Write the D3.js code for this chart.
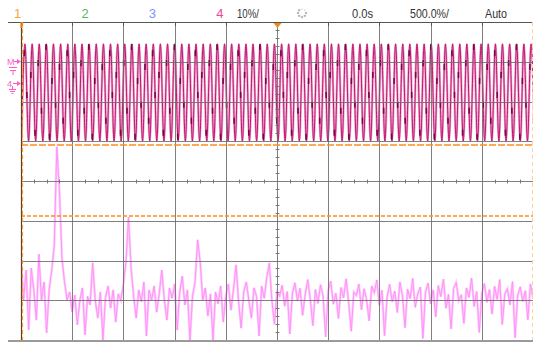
<!DOCTYPE html>
<html>
<head>
<meta charset="utf-8">
<script src="https://cdn.jsdelivr.net/npm/d3@7"></script>
<style>
  body { margin: 0; background: #fff; }
  svg { display: block; font-family: "Liberation Sans", Arial, sans-serif; }
</style>
</head>
<body>
<svg id="scope"></svg>
<script>
// ---- data ----
const channelLabels = ['1', '2', '3', '4'];
const headerFields = ['10%/', '0.0s', '500.0%/', 'Auto'];

// channel 4 time trace: crest times (µs) and crest / trough levels (V)
const ch4CrestTimes = [
  -2461, -2391, -2322, -2252, -2183, -2113, -2043, -1974, -1904, -1835,
  -1765, -1695, -1626, -1556, -1487, -1417, -1347, -1278, -1208, -1139,
  -1069, -999, -930, -860, -791, -721, -651, -582, -512, -443,
  -373, -303, -234, -164, -95, -25, 45, 114, 184, 253,
  323, 393, 462, 532, 601, 671, 741, 810, 880, 949,
  1019, 1089, 1158, 1228, 1297, 1367, 1437, 1506, 1576, 1645,
  1715, 1785, 1854, 1924, 1993, 2063, 2133, 2202, 2272, 2341,
  2411, 2481
];
const ch4High = 9.8;
const ch4Low = -14.6;
// darker persistence marks seen on the strokes (V)
const ch4DarkLevels = [7.5, -3.0, 2.0, -12.5, 5.0, -7.0, 9.0, -13.5, 0.5, -5.5, 4.0, -9.5];

// FFT magnitude (dB), one value per kHz from 0 to 200 kHz
const fftDb = [
  -20.4, -30.0, -22.4, -37.5, -21.9, -27.4, -35.0, -18.4, -30.0, -25.4,
  -38.2, -27.4, -22.4, -16.1, 8.6, -2.3, -19.4, -25.4, -30.0, -27.9,
  -33.0, -28.7, -36.2, -30.0, -26.9, -38.7, -29.0, -31.2, -20.6, -30.0,
  -34.5, -27.9, -40.0, -29.3, -26.4, -32.0, -27.4, -35.5, -28.4, -30.0,
  -25.9, -20.4, -9.1, -21.9, -29.0, -34.5, -27.4, -30.4, -25.4, -39.0,
  -27.4, -30.0, -26.4, -33.0, -28.4, -22.4, -30.0, -35.0, -26.9, -29.5,
  -25.9, -37.5, -27.9, -23.9, -31.2, -27.4, -40.0, -29.0, -25.4, -14.8,
  -20.4, -30.0, -26.9, -34.0, -28.4, -40.0, -27.9, -30.9, -26.4, -35.5,
  -29.0, -25.9, -32.5, -27.4, -21.1, -30.4, -37.0, -27.9, -25.4, -30.0,
  -34.5, -26.9, -29.0, -39.0, -26.4, -29.5, -24.4, -20.6, -30.0, -36.0,
  -27.9, -29.0, -26.2, -31.5, -27.8, -38.5, -28.4, -25.6, -30.2, -27.0,
  -33.8, -28.6, -24.8, -29.7, -36.4, -27.3, -30.8, -26.1, -28.9, -39.2,
  -27.6, -25.2, -31.0, -28.2, -34.6, -26.8, -29.4, -24.6, -30.6, -37.8,
  -27.9, -28.8, -25.9, -32.4, -27.1, -29.9, -35.2, -26.4, -28.1, -24.9,
  -31.3, -27.5, -38.9, -29.2, -26.0, -30.4, -27.7, -33.1, -25.4, -28.7,
  -36.9, -27.2, -29.6, -24.5, -31.8, -28.3, -26.7, -39.6, -28.0, -25.7,
  -30.9, -27.4, -34.2, -26.3, -29.1, -24.7, -32.0, -28.5, -37.2, -27.0,
  -25.5, -30.1, -28.6, -35.8, -26.9, -29.3, -24.4, -31.6, -27.8, -38.1,
  -28.2, -25.8, -30.5, -27.3, -33.5, -26.5, -29.8, -24.8, -36.1, -28.4,
  -27.1, -31.2, -25.3, -39.4, -28.9, -26.6, -30.3, -27.6, -34.9, -25.9,
  -29.5
];
const cursorLevelsDb = [9.0, -8.8];

// ---- layout ----
const W = 533, H = 342;
const LEFT = 21, RIGHT = 533, TOP = 22, BOTTOM = 340;
const WAVE_BOTTOM = 141;

const svg = d3.select('#scope').attr('width', W).attr('height', H);

// Scales: 10 horizontal divisions, 8 vertical divisions.
const xTime = d3.scaleLinear().domain([-2500, 2500]).range([LEFT, RIGHT]);
const xFreq = d3.scaleLinear().domain([0, 200]).range([LEFT, RIGHT]);
const yDb = d3.scaleLinear().domain([-40, 40]).range([BOTTOM, TOP]);
const yCh4 = d3.scaleLinear().domain([0, 10]).range([83, 83 - (BOTTOM - TOP) / 8]);

const defs = svg.append('defs');
defs.append('clipPath').attr('id', 'plot-clip')
  .append('rect').attr('x', LEFT).attr('y', TOP).attr('width', RIGHT - LEFT).attr('height', BOTTOM - TOP);
defs.append('clipPath').attr('id', 'wave-clip')
  .append('rect').attr('x', LEFT + 1).attr('y', TOP).attr('width', RIGHT - LEFT).attr('height', WAVE_BOTTOM - TOP);

const timeDivs = d3.range(-2000, 2001, 500);
const dbDivs = d3.range(-30, 31, 10);
const px = (v) => Math.round(v) + 0.5;

// ---- FFT trace ----
const fftLine = d3.line().x((d, i) => xFreq(i)).y((d) => yDb(d));
const fftGroup = svg.append('g').attr('clip-path', 'url(#plot-clip)');
fftGroup.append('path').datum(fftDb).attr('d', fftLine)
  .attr('fill', 'none').attr('stroke', '#ffcafc').attr('stroke-width', 2.4);
fftGroup.append('path').datum(fftDb).attr('d', fftLine)
  .attr('fill', 'none').attr('stroke', '#ff8ef7').attr('stroke-width', 0.9);

// ---- channel 4 time trace ----
const half = (ch4CrestTimes[1] - ch4CrestTimes[0]) / 2;
const wavePts = [];
ch4CrestTimes.forEach((t) => {
  wavePts.push([t - half, ch4Low]);
  wavePts.push([t, ch4High]);
});
wavePts.push([ch4CrestTimes[ch4CrestTimes.length - 1] + half, ch4Low]);

const waveLine = d3.line().x((d) => xTime(d[0])).y((d) => yCh4(d[1])).curve(d3.curveMonotoneX);
const waveGroup = svg.append('g').attr('clip-path', 'url(#wave-clip)');
waveGroup.append('path').datum(wavePts).attr('d', waveLine)
  .attr('fill', 'none').attr('stroke', '#eaa8d0').attr('stroke-width', 2.4);
waveGroup.append('path').datum(wavePts).attr('d', waveLine)
  .attr('fill', 'none').attr('stroke', '#c4126c').attr('stroke-width', 1);

// dark marks along each stroke (inverse of the smoothstep segment)
const marks = [];
for (let i = 0; i < wavePts.length - 1; i++) {
  const [t0, v0] = wavePts[i], [t1, v1] = wavePts[i + 1];
  const v = ch4DarkLevels[i % ch4DarkLevels.length];
  const s = (v - v0) / (v1 - v0);
  const u = 0.5 - Math.sin(Math.asin(1 - 2 * s) / 3);
  marks.push({ t: t0 + (t1 - t0) * u, v });
}
waveGroup.append('g').attr('stroke', '#720b40').attr('stroke-width', 1.6)
  .selectAll('line').data(marks).join('line')
  .attr('x1', (d) => xTime(d.t)).attr('x2', (d) => xTime(d.t))
  .attr('y1', (d) => yCh4(d.v) - 3).attr('y2', (d) => yCh4(d.v) + 3);

// ---- graticule (drawn over the traces, like the scope does) ----
const grid = svg.append('g').attr('id', 'grid').attr('stroke', '#6a6a6a').attr('stroke-width', 1)
  .attr('stroke-opacity', 0.85);
grid.selectAll('line.v').data(timeDivs).join('line').attr('class', 'v')
  .attr('x1', (d) => px(xTime(d))).attr('x2', (d) => px(xTime(d)))
  .attr('y1', TOP).attr('y2', BOTTOM);
grid.selectAll('line.h').data(dbDivs).join('line').attr('class', 'h')
  .attr('y1', (d) => px(yDb(d))).attr('y2', (d) => px(yDb(d)))
  .attr('x1', LEFT).attr('x2', RIGHT);

// minor ticks on the centre axes
const cx = px(xTime(0)), cy = px(yDb(0));
grid.selectAll('line.tx').data(d3.range(-2500, 2500, 125).filter((d) => d % 500 !== 0)).join('line')
  .attr('class', 'tx')
  .attr('x1', (d) => px(xTime(d))).attr('x2', (d) => px(xTime(d)))
  .attr('y1', cy - 2).attr('y2', cy + 2);
grid.selectAll('line.ty').data(d3.range(-40, 40, 2).filter((d) => d % 10 !== 0)).join('line')
  .attr('class', 'ty')
  .attr('y1', (d) => px(yDb(d))).attr('y2', (d) => px(yDb(d)))
  .attr('x1', cx - 2).attr('x2', cx + 2);

// header rule with division ticks, and bottom border
svg.append('line').attr('x1', 8).attr('x2', W).attr('y1', TOP + 0.5).attr('y2', TOP + 0.5)
  .attr('stroke', '#555');
svg.append('g').attr('stroke', '#555').selectAll('line').data(timeDivs).join('line')
  .attr('x1', (d) => px(xTime(d))).attr('x2', (d) => px(xTime(d)))
  .attr('y1', TOP).attr('y2', TOP + 4);
svg.append('line').attr('x1', 8).attr('x2', W).attr('y1', BOTTOM + 1).attr('y2', BOTTOM + 1)
  .attr('stroke', '#9a9a9a').attr('stroke-width', 2);

// ---- cursors ----
svg.append('g').attr('stroke', '#ff8c1a').attr('stroke-width', 1.3)
  .selectAll('line').data(cursorLevelsDb).join('line')
  .attr('x1', LEFT).attr('x2', RIGHT)
  .attr('y1', (d) => Math.round(yDb(d))).attr('y2', (d) => Math.round(yDb(d)))
  .attr('stroke-dasharray', (d, i) => (i === 0 ? '7,2' : '4,2'));

// left edge: dark border with orange dashed time cursor
svg.append('line').attr('x1', LEFT + 0.5).attr('x2', LEFT + 0.5).attr('y1', TOP).attr('y2', BOTTOM)
  .attr('stroke', '#5c3b1e').attr('stroke-width', 1.2);
svg.append('line').attr('x1', LEFT + 1.5).attr('x2', LEFT + 1.5).attr('y1', TOP).attr('y2', BOTTOM)
  .attr('stroke', '#ff9a2e').attr('stroke-width', 1.2).attr('stroke-dasharray', '4,3');
svg.append('line').attr('x1', RIGHT - 0.5).attr('x2', RIGHT - 0.5).attr('y1', TOP).attr('y2', BOTTOM)
  .attr('stroke', '#ffd2a0').attr('stroke-width', 1).attr('stroke-dasharray', '4,3');

// cursor flag and trigger position marker in the header
svg.append('rect').attr('x', LEFT - 0.5).attr('y', TOP).attr('width', 2).attr('height', 6).attr('fill', '#e07a10');
svg.append('path')
  .attr('d', `M${cx - 4},${TOP + 1} L${cx + 4},${TOP + 1} L${cx},${TOP + 6} Z`)
  .attr('fill', '#f08a1a');

// ---- header text ----
const channelColours = ['#f4a53a', '#5cb85c', '#8092ff', '#f0449e'];
svg.append('g').attr('font-size', 13)
  .selectAll('text').data(channelLabels).join('text')
  .attr('x', (d, i) => 14 + i * 67.4).attr('y', 18)
  .attr('fill', (d, i) => channelColours[i])
  .text((d) => d);

const fieldX = [237, 352, 410, 485];
const fieldW = [22, 21, 39, 22];
svg.append('g').attr('font-size', 13).attr('fill', '#333')
  .selectAll('text').data(headerFields).join('text')
  .attr('x', (d, i) => fieldX[i]).attr('y', 18)
  .attr('textLength', (d, i) => fieldW[i]).attr('lengthAdjust', 'spacingAndGlyphs')
  .text((d) => d);

// busy indicator (ring of grey dots)
svg.append('g').attr('fill', '#b8b8b8')
  .selectAll('circle').data(d3.range(8)).join('circle')
  .attr('cx', (d) => 302 + 4 * Math.cos((d * Math.PI) / 4))
  .attr('cy', (d) => 13 + 4 * Math.sin((d * Math.PI) / 4))
  .attr('r', (d) => (d < 6 ? 1.2 : 0.6));

// ---- channel markers at the left ----
const mk = svg.append('g').attr('fill', '#ff5cc8').attr('stroke', '#ff5cc8');
mk.append('text').attr('x', 7).attr('y', 65).attr('font-size', 9).attr('stroke', 'none').text('M');
mk.append('path').attr('d', 'M14,61.5 L18,61.5').attr('stroke-width', 1);
mk.append('path').attr('d', 'M17,59 L21,61.5 L17,64 Z').attr('stroke', 'none');
mk.append('path').attr('d', 'M9,67.5 L17,67.5 M10,70.5 L16,70.5 M13,70.5 L13,75').attr('stroke-width', 1).attr('fill', 'none');
mk.append('text').attr('x', 7).attr('y', 87).attr('font-size', 9).attr('stroke', 'none').text('4');
mk.append('path').attr('d', 'M13,83.5 L18,83.5').attr('stroke-width', 1);
mk.append('path').attr('d', 'M17,81 L21,83.5 L17,86 Z').attr('stroke', 'none');
mk.append('path').attr('d', 'M12.5,86 L12.5,89 M9,89.5 L16,89.5 M10,91.5 L15,91.5 M11.5,93.5 L13.5,93.5')
  .attr('stroke-width', 1).attr('fill', 'none');
</script>
</body>
</html>
